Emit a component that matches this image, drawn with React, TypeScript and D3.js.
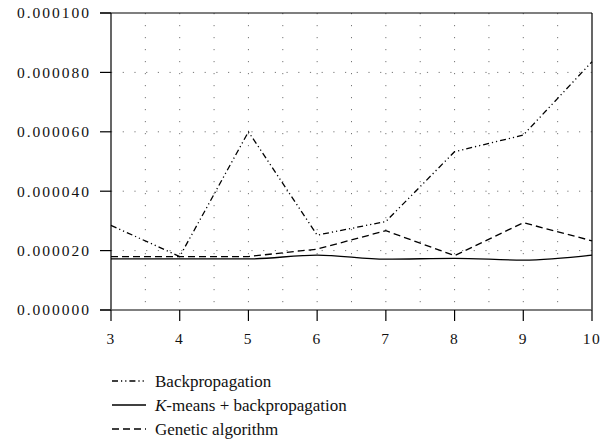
import React from "react";
import * as d3 from "d3";

const xValues = [3, 4, 5, 6, 7, 8, 9, 10];
const backprop = [28.5e-6, 18.0e-6, 60.0e-6, 25.2e-6, 29.8e-6, 53.3e-6, 58.9e-6, 83.6e-6];
const kmeans = [17.2e-6, 17.2e-6, 17.2e-6, 18.5e-6, 17.1e-6, 17.4e-6, 16.8e-6, 18.5e-6];
const genetic = [18.0e-6, 18.0e-6, 18.0e-6, 20.5e-6, 26.7e-6, 18.3e-6, 29.4e-6, 23.3e-6];
const yTicks = [0, 20e-6, 40e-6, 60e-6, 80e-6, 100e-6];
const xTicks = [3, 4, 5, 6, 7, 8, 9, 10];
const xGrid = [3.5, 4, 4.5, 5, 5.5, 6, 6.5, 7, 7.5, 8, 8.5, 9, 9.5];
const yGrid = [20e-6, 40e-6, 60e-6, 80e-6];
const legendLabels = ["Backpropagation", "K-means + backpropagation", "Genetic algorithm"];

const W = 612, H = 447;
const L = 111, R = 592, T = 13, B = 310;
const FONT = "Liberation Serif";

export default function App() {
  const x = d3.scaleLinear().domain([3, 10]).range([L, R]);
  const y = d3.scaleLinear().domain([0, 100e-6]).range([B, T]);
  const mk = (vals: number[], curve: any) =>
    d3.line<number>().x((_, i) => x(xValues[i])).y((v) => y(v)).curve(curve)(vals) || "";

  const series = [
    { vals: backprop, dash: "6,3,1.2,3,1.2,3", curve: d3.curveLinear, w: 1.3 },
    { vals: kmeans, dash: "", curve: d3.curveMonotoneX, w: 1.3 },
    { vals: genetic, dash: "7,4", curve: d3.curveLinear, w: 1.3 },
  ];
  const ts = { fontFamily: FONT };

  return (
    <svg width={W} height={H} style={{ position: "absolute", left: 0, top: 0, background: "#fff", fontFamily: FONT }}>
      <rect x={0} y={0} width={W} height={H} fill="#fff" />
      {xGrid.map((g) => (
        <line key={"xg" + g} x1={x(g)} x2={x(g)} y1={T} y2={B} stroke="#777" strokeWidth={1} strokeDasharray="1.2,10.8" />
      ))}
      {yGrid.map((g) => (
        <line key={"yg" + g} x1={L} x2={R} y1={y(g)} y2={y(g)} stroke="#777" strokeWidth={1} strokeDasharray="1.2,10.5" />
      ))}
      <line x1={L} x2={L} y1={T} y2={B} stroke="#000" strokeWidth={1.2} />
      <line x1={L - 11} x2={R} y1={T} y2={T} stroke="#000" strokeWidth={1.2} />
      <line x1={R} x2={R} y1={T} y2={B} stroke="#000" strokeWidth={1.2} />
      <line x1={L - 11} x2={R} y1={B} y2={B} stroke="#555" strokeWidth={1.6} />
      {yTicks.map((t) => (
        <g key={"yt" + t}>
          <line x1={L - 11} x2={L} y1={y(t)} y2={y(t)} stroke="#000" strokeWidth={1.2} />
          <text style={ts} x={L - 20} y={y(t)} dy="0.35em" textAnchor="end" fontSize={15.5} letterSpacing={2} fill="#111">
            {t === 0 ? "0.000000" : d3.format(".6f")(t)}
          </text>
        </g>
      ))}
      {xTicks.map((t) => (
        <g key={"xt" + t}>
          <line x1={x(t)} x2={x(t)} y1={B} y2={B + 11} stroke="#000" strokeWidth={1.2} />
          <text style={ts} x={x(t)} y={B + 34} textAnchor="middle" fontSize={15.5} letterSpacing={1.5} fill="#111">
            {t}
          </text>
        </g>
      ))}
      {series.map((s, i) => (
        <path key={"s" + i} d={mk(s.vals, s.curve)} fill="none" stroke="#000" strokeWidth={s.w} strokeDasharray={s.dash || undefined} />
      ))}
      {legendLabels.map((lab, i) => {
        const ly = 381 + i * 24;
        const s = series[i];
        return (
          <g key={"lg" + i}>
            <line x1={112} x2={146} y1={ly} y2={ly} stroke="#000" strokeWidth={s.w} strokeDasharray={s.dash || undefined} />
            <text style={ts} x={155} y={ly} dy="0.33em" fontSize={17} fill="#111">
              {i === 1 ? (
                <>
                  <tspan fontStyle="italic">K</tspan>
                  {lab.slice(1)}
                </>
              ) : (
                lab
              )}
            </text>
          </g>
        );
      })}
    </svg>
  );
}
